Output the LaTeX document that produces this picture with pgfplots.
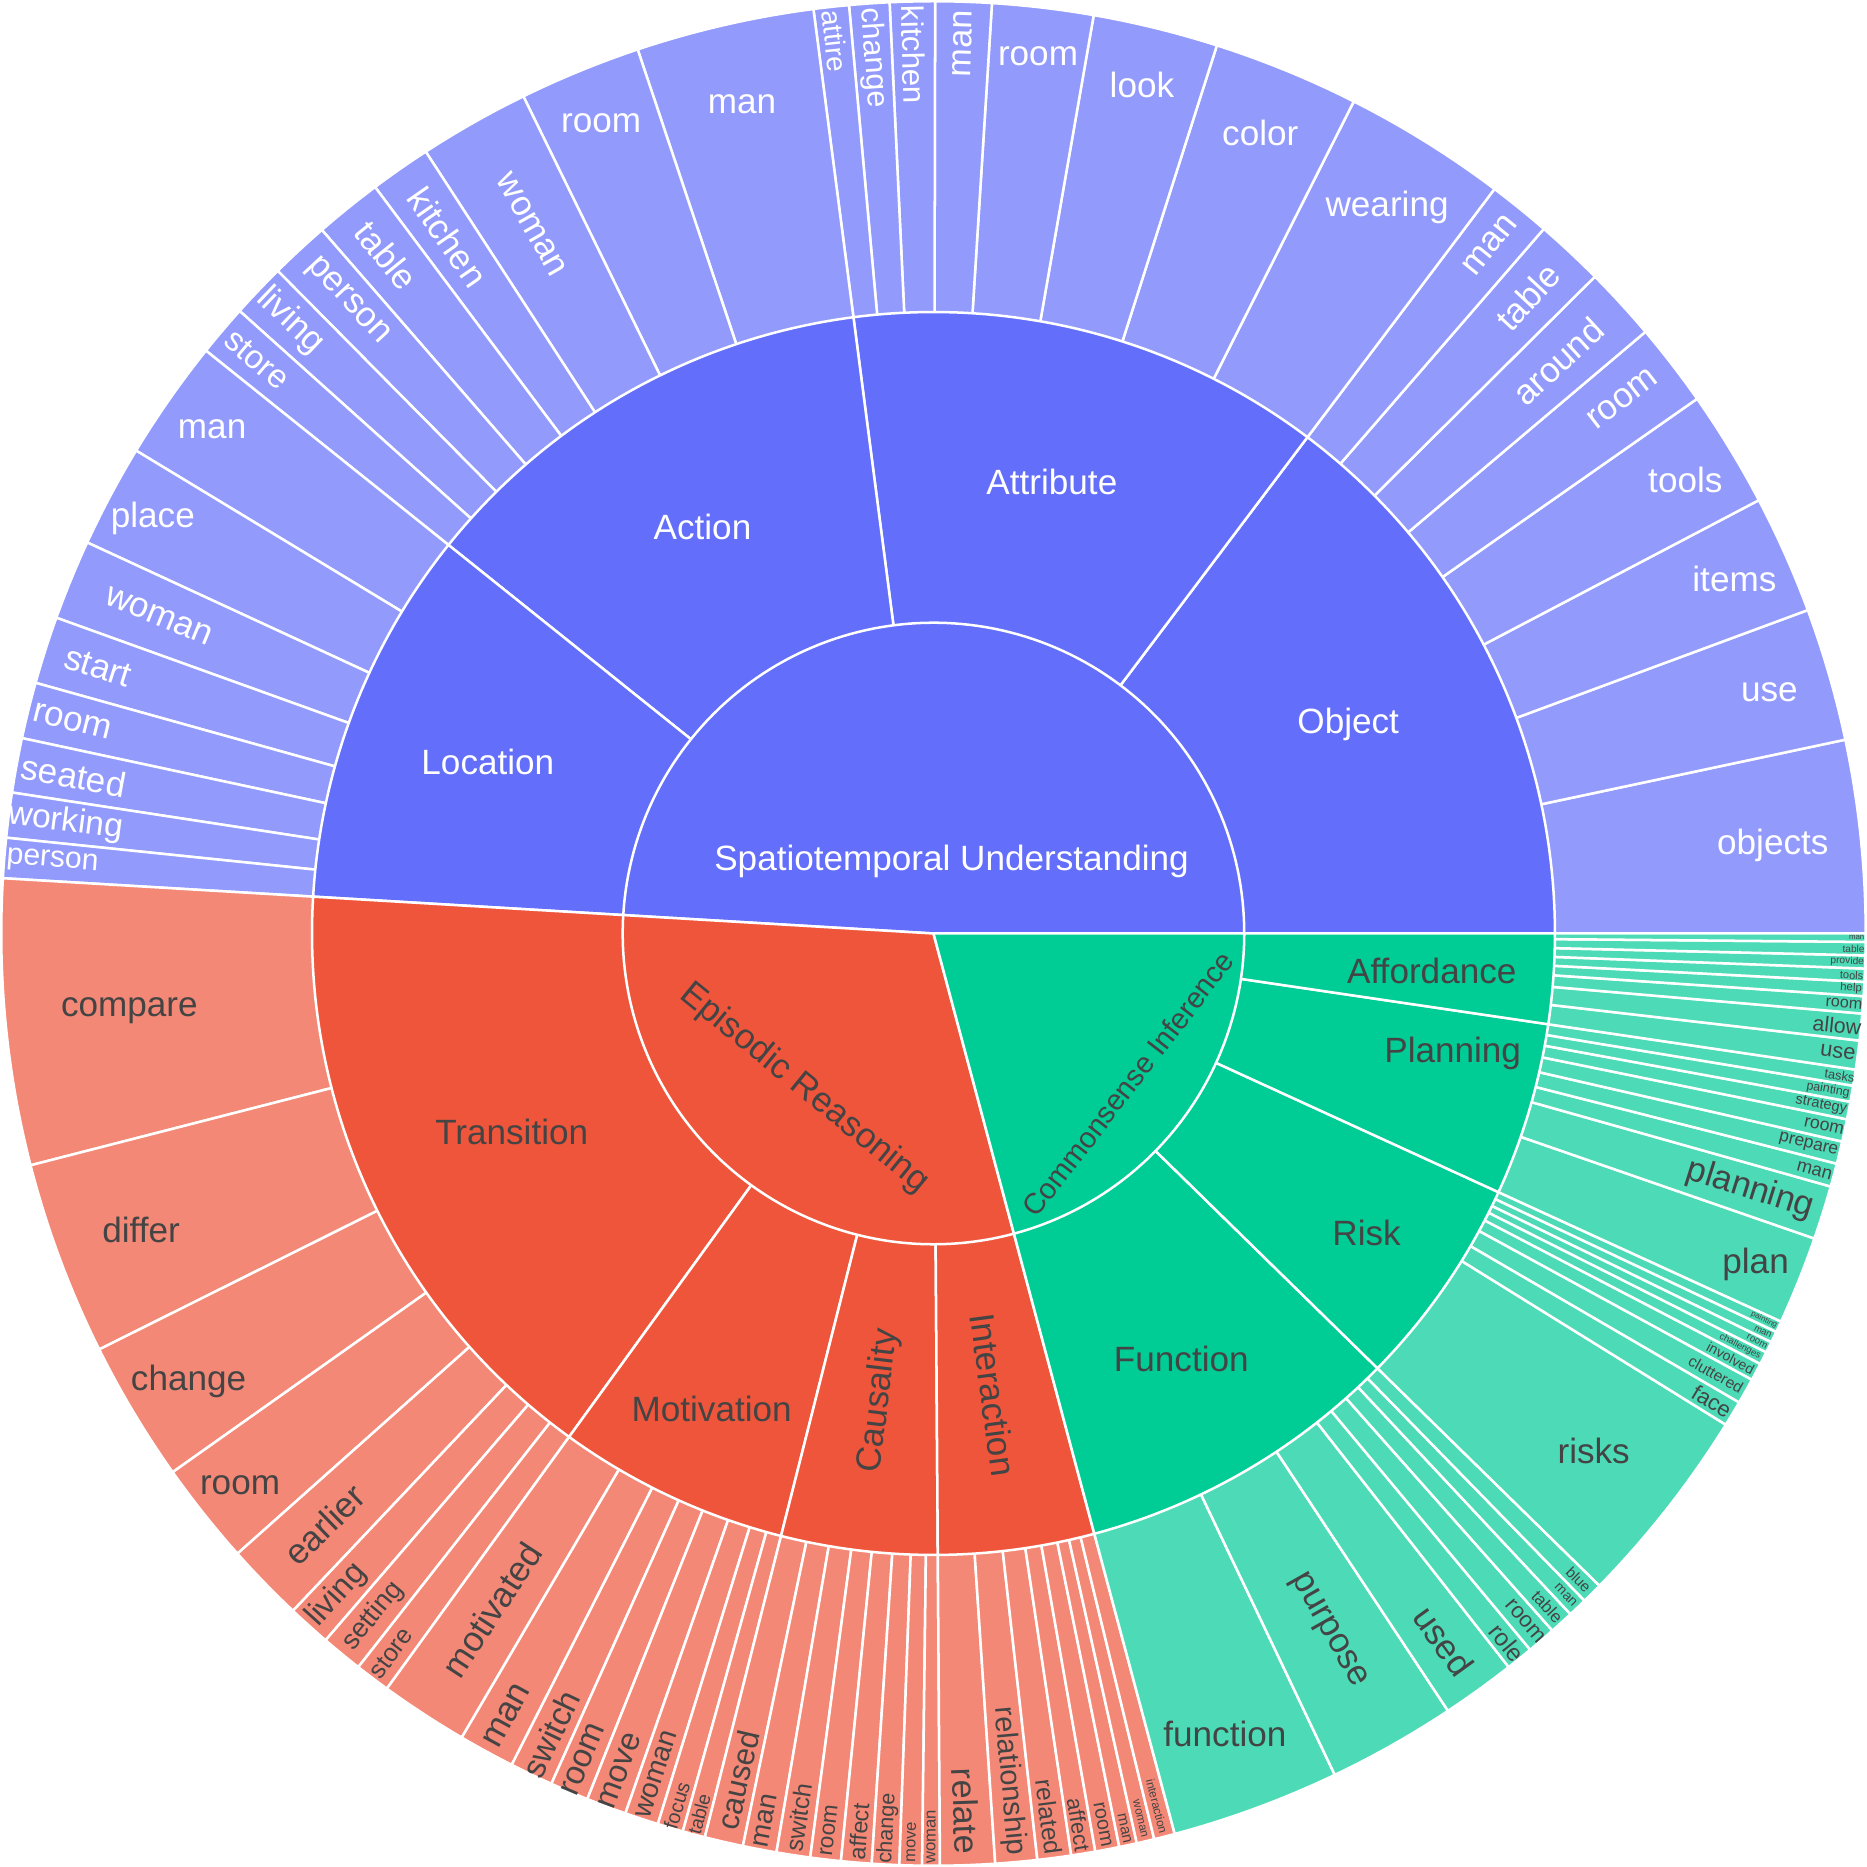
\documentclass[border=0pt]{standalone}
\usepackage{pgfplots}
\pgfplotsset{compat=1.18}
\usepackage{fontspec}
\setmainfont{Liberation Sans}
\definecolor{bA}{HTML}{636EFA}\definecolor{bL}{HTML}{929AFC}
\definecolor{rA}{HTML}{EF553B}\definecolor{rL}{HTML}{F48876}
\definecolor{gA}{HTML}{00CC96}\definecolor{gL}{HTML}{4CDBB6}
\definecolor{tx}{HTML}{444444}
% sector: start angle, end angle, radius, colour, samples
\newcommand{\sect}[5]{\addplot[fill=#4, draw=white, line width=1.25pt, line join=round, domain=#1:#2, samples=#5, variable=\t] ({932+#3*cos(\t)},{935+#3*sin(\t)}) -- (axis cs:932,935) -- cycle;}
% label: angle, radius, rotation, size, colour, text
\newcommand{\lab}[6]{\node[rotate=#3, text=#5, inner sep=0pt, anchor=center, font=\fontsize{#4}{#4}\selectfont] at (axis cs:{932+#2*cos(#1)},{935+#2*sin(#1)}) {#6};}
\begin{document}
\begin{tikzpicture}
\begin{axis}[width=932pt, height=933.5pt, scale only axis, xmin=0, xmax=1864, ymin=0, ymax=1867, hide axis, clip=false]
% ---------- level 3 (leaves), R = 929 ----------
% Object
\sect{0}{12.0}{929}{bL}{30}\sect{12.0}{20.3}{929}{bL}{30}\sect{20.3}{27.7}{929}{bL}{30}\sect{27.7}{35.0}{929}{bL}{30}
\sect{35.0}{40.2}{929}{bL}{30}\sect{40.2}{44.8}{929}{bL}{30}\sect{44.8}{49.1}{929}{bL}{30}\sect{49.1}{53.0}{929}{bL}{30}
% Attribute
\sect{53.0}{63.2}{929}{bL}{30}\sect{63.2}{72.3}{929}{bL}{30}\sect{72.3}{80.1}{929}{bL}{30}\sect{80.1}{86.4}{929}{bL}{30}
\sect{86.4}{89.9}{929}{bL}{30}\sect{89.9}{92.7}{929}{bL}{30}\sect{92.7}{95.2}{929}{bL}{30}\sect{95.2}{97.4}{929}{bL}{30}
% Action
\sect{97.4}{108.5}{929}{bL}{30}\sect{108.5}{116.1}{929}{bL}{30}\sect{116.1}{123.0}{929}{bL}{30}\sect{123.0}{126.8}{929}{bL}{30}
\sect{126.8}{131.0}{929}{bL}{30}\sect{131.0}{134.7}{929}{bL}{30}\sect{134.7}{138.1}{929}{bL}{30}\sect{138.1}{141.3}{929}{bL}{30}
% Location
\sect{141.3}{148.8}{929}{bL}{30}\sect{148.8}{155.2}{929}{bL}{30}\sect{155.2}{160.2}{929}{bL}{30}\sect{160.2}{164.4}{929}{bL}{30}
\sect{164.4}{167.9}{929}{bL}{30}\sect{167.9}{171.3}{929}{bL}{30}\sect{171.3}{174.1}{929}{bL}{30}\sect{174.1}{176.6}{929}{bL}{30}
% Transition
\sect{176.6}{194.4}{929}{rL}{30}\sect{194.4}{206.5}{929}{rL}{30}\sect{206.5}{215.3}{929}{rL}{30}\sect{215.3}{221.7}{929}{rL}{30}
\sect{221.7}{226.6}{929}{rL}{30}\sect{226.6}{229.3}{929}{rL}{30}\sect{229.3}{231.9}{929}{rL}{30}\sect{231.9}{234.1}{929}{rL}{30}
% Motivation
\sect{234.1}{239.6}{929}{rL}{30}\sect{239.6}{243.1}{929}{rL}{30}\sect{243.1}{245.8}{929}{rL}{30}\sect{245.8}{248.2}{929}{rL}{30}
\sect{248.2}{250.7}{929}{rL}{30}\sect{250.7}{252.8}{929}{rL}{30}\sect{252.8}{254.4}{929}{rL}{30}\sect{254.4}{255.8}{929}{rL}{30}
% Causality
\sect{255.8}{258.2}{929}{rL}{30}\sect{258.2}{260.3}{929}{rL}{30}\sect{260.3}{262.4}{929}{rL}{30}\sect{262.4}{264.3}{929}{rL}{30}
\sect{264.3}{266.2}{929}{rL}{30}\sect{266.2}{267.9}{929}{rL}{30}\sect{267.9}{269.3}{929}{rL}{30}\sect{269.3}{270.4}{929}{rL}{30}
% Interaction
\sect{270.4}{273.8}{929}{rL}{30}\sect{273.8}{276.4}{929}{rL}{30}\sect{276.4}{278.5}{929}{rL}{30}\sect{278.5}{280.0}{929}{rL}{30}
\sect{280.0}{281.5}{929}{rL}{30}\sect{281.5}{282.6}{929}{rL}{30}\sect{282.6}{283.7}{929}{rL}{30}\sect{283.7}{285.0}{929}{rL}{30}
% Function
\sect{285.0}{295.5}{929}{gL}{30}\sect{295.5}{303.5}{929}{gL}{30}\sect{303.5}{308.1}{929}{gL}{30}\sect{308.1}{309.8}{929}{gL}{30}
\sect{309.8}{311.6}{929}{gL}{30}\sect{311.6}{313.1}{929}{gL}{30}\sect{313.1}{314.3}{929}{gL}{30}\sect{314.3}{315.6}{929}{gL}{30}
% Risk
\sect{315.6}{328.2}{929}{gL}{30}\sect{328.2}{329.8}{929}{gL}{30}\sect{329.8}{331.4}{929}{gL}{30}\sect{331.4}{332.5}{929}{gL}{30}
\sect{332.5}{333.3}{929}{gL}{30}\sect{333.3}{334.0}{929}{gL}{30}\sect{334.0}{334.7}{929}{gL}{30}\sect{334.7}{335.4}{929}{gL}{30}
% Planning
\sect{335.4}{340.9}{929}{gL}{30}\sect{340.9}{344.25}{929}{gL}{30}\sect{344.25}{345.7}{929}{gL}{30}\sect{345.7}{347.1}{929}{gL}{30}
\sect{347.1}{348.5}{929}{gL}{30}\sect{348.5}{349.6}{929}{gL}{30}\sect{349.6}{350.6}{929}{gL}{30}\sect{350.6}{351.6}{929}{gL}{30}
% Affordance
\sect{351.6}{353.4}{929}{gL}{30}\sect{353.4}{355.07}{929}{gL}{30}\sect{355.07}{356.14}{929}{gL}{30}\sect{356.14}{357.02}{929}{gL}{30}
\sect{357.02}{357.84}{929}{gL}{30}\sect{357.84}{358.65}{929}{gL}{30}\sect{358.65}{359.48}{929}{gL}{30}\sect{359.48}{360}{929}{gL}{30}
% ---------- level 2, R = 619.3 ----------
\sect{0}{53.0}{619.3}{bA}{80}\sect{53.0}{97.4}{619.3}{bA}{80}\sect{97.4}{141.3}{619.3}{bA}{80}\sect{141.3}{176.6}{619.3}{bA}{80}
\sect{176.6}{234.1}{619.3}{rA}{80}\sect{234.1}{255.8}{619.3}{rA}{80}\sect{255.8}{270.4}{619.3}{rA}{80}\sect{270.4}{285.0}{619.3}{rA}{80}
\sect{285.0}{315.6}{619.3}{gA}{80}\sect{315.6}{335.4}{619.3}{gA}{80}\sect{335.4}{351.6}{619.3}{gA}{80}\sect{351.6}{360}{619.3}{gA}{80}
% ---------- level 1, R = 309.7 ----------
\sect{0}{176.6}{309.7}{bA}{120}\sect{176.6}{285.0}{309.7}{rA}{120}\sect{285.0}{360}{309.7}{gA}{120}
% ---------- labels ----------
\node[text=white, inner sep=0pt, font=\fontsize{17.5}{17.5}\selectfont] at (axis cs:950,1007) {Spatiotemporal Understanding};
\lab{230.2}{201}{-39.2}{17.5}{tx}{Episodic Reasoning}
\lab{322.3}{245}{52.3}{14.5}{tx}{Commonsense Inference}
\lab{26.8}{463}{0}{17.5}{white}{Object}
\lab{75.3}{465}{0}{17.5}{white}{Attribute}
\lab{119.6}{466}{0}{17.5}{white}{Action}
\lab{158.9}{476}{0}{17.5}{white}{Location}
\lab{205.2}{464.5}{0}{17.5}{tx}{Transition}
\lab{245}{523}{0}{17.5}{tx}{Motivation}
\lab{263.4}{469}{83.1}{17.5}{tx}{Causality}
\lab{277.4}{463.5}{-82.3}{17.5}{tx}{Interaction}
\lab{300.2}{491}{0}{17.5}{tx}{Function}
\lab{325.3}{525}{0}{17.5}{tx}{Risk}
\lab{347}{531}{0}{17.5}{tx}{Planning}
\lab{355.7}{498}{0}{17.5}{tx}{Affordance}
% Object
\lab{6.0}{841}{0}{17.5}{white}{objects}
\lab{16.1}{867}{0}{17.5}{white}{use}
\lab{23.9}{873}{0}{17.5}{white}{items}
\lab{31.1}{875}{0}{17.5}{white}{tools}
\lab{37.8}{869}{37.6}{17.5}{white}{room}
\lab{42.5}{844}{42.5}{17.5}{white}{around}
\lab{46.95}{868}{47}{17.5}{white}{table}
\lab{51.05}{882}{51}{17.5}{white}{man}
% Attribute
\lab{58}{853}{0}{17.5}{white}{wearing}
\lab{67.8}{862}{0}{17.5}{white}{color}
\lab{76.2}{871}{0}{17.5}{white}{look}
\lab{83.2}{880}{0}{17.5}{white}{room}
\lab{88.15}{887}{88.15}{17}{white}{man}
\lab{91.3}{876}{-88.7}{15.5}{white}{kitchen}
\lab{93.95}{875}{-86.05}{15.2}{white}{change}
\lab{96.3}{895}{-83.7}{13.9}{white}{attire}
% Action
\lab{103}{848}{0}{17.5}{white}{man}
\lab{112.3}{873}{0}{17.5}{white}{room}
\lab{119.55}{812}{-60.45}{17.5}{white}{woman}
\lab{124.9}{846}{-55.1}{17.5}{white}{kitchen}
\lab{128.9}{868}{-51.1}{17.5}{white}{table}
\lab{132.85}{859}{-47.15}{17.5}{white}{person}
\lab{136.4}{885}{-43.6}{17.5}{white}{living}
\lab{139.7}{884}{-40.3}{16.5}{white}{store}
% Location
\lab{145.05}{877}{0}{17.5}{white}{man}
\lab{152}{881}{0}{17.5}{white}{place}
\lab{157.7}{834}{-22.3}{17.5}{white}{woman}
\lab{162.3}{874}{-17.7}{17.5}{white}{start}
\lab{166.15}{884}{-13.85}{17.5}{white}{room}
\lab{169.6}{871}{-10.4}{17.5}{white}{seated}
\lab{172.7}{872}{-7.3}{16.7}{white}{working}
\lab{175.35}{881}{-4.65}{15}{white}{person}
% Transition
\lab{185.5}{805}{0}{17.5}{tx}{compare}
\lab{200.5}{843}{0}{17.5}{tx}{differ}
\lab{211}{866}{0}{17.5}{tx}{change}
\lab{218.5}{883}{0}{17.5}{tx}{room}
\lab{224.15}{846}{44.15}{17.5}{tx}{earlier}
\lab{227.95}{888}{47.95}{16}{tx}{living}
\lab{230.6}{880}{50.6}{13.5}{tx}{setting}
\lab{233}{898}{53}{12.5}{tx}{store}
% Motivation
\lab{236.85}{805}{56.85}{17.5}{tx}{motivated}
\lab{241.35}{888}{61.35}{17.5}{tx}{man}
\lab{244.45}{884}{64.45}{16.5}{tx}{switch}
\lab{247}{894}{67}{16.5}{tx}{room}
\lab{249.45}{891}{69.45}{16}{tx}{move}
\lab{251.75}{882}{71.75}{14}{tx}{woman}
\lab{253.6}{906}{73.6}{10}{tx}{focus}
\lab{255.1}{908}{75.1}{9.5}{tx}{table}
% Causality
\lab{257}{866}{77}{15.5}{tx}{caused}
\lab{259.25}{900}{79.25}{13.7}{tx}{man}
\lab{261.35}{891}{81.35}{12.3}{tx}{switch}
\lab{263.35}{900}{83.35}{11.3}{tx}{room}
\lab{265.25}{898}{85.25}{11.6}{tx}{affect}
\lab{267.05}{893}{87.05}{10.7}{tx}{change}
\lab{268.6}{906}{88.6}{8.2}{tx}{move}
\lab{269.85}{900}{89.85}{8.3}{tx}{woman}
% Interaction
\lab{272.1}{875}{-87.9}{17}{tx}{relate}
\lab{275.1}{848}{-84.9}{14.5}{tx}{relationship}
\lab{277.45}{888}{-82.55}{12.3}{tx}{related}
\lab{279.25}{900}{-80.75}{10.9}{tx}{affect}
\lab{280.75}{904}{-79.25}{9.9}{tx}{room}
\lab{282.05}{912}{-77.95}{7.7}{tx}{man}
\lab{283.15}{906}{-76.85}{5.9}{tx}{woman}
\lab{284.35}{898}{-75.65}{6}{tx}{interaction}
% Function
\lab{290}{849}{0}{17.5}{tx}{function}
\lab{299.5}{798}{-60.5}{17.5}{tx}{purpose}
\lab{305.8}{869}{-54.2}{17.5}{tx}{used}
\lab{308.95}{909}{-51.05}{12}{tx}{role}
\lab{310.7}{904}{-49.3}{11}{tx}{room}
\lab{312.35}{908}{-47.65}{8.5}{tx}{table}
\lab{313.7}{912}{-46.3}{6.9}{tx}{man}
\lab{314.95}{910}{-45.05}{7.5}{tx}{blue}
% Risk
\lab{321.9}{836}{0}{17.5}{tx}{risks}
\lab{329}{905}{-31}{11}{tx}{face}
\lab{330.6}{895}{-29.4}{7.8}{tx}{cluttered}
\lab{331.95}{900}{-28.05}{7}{tx}{involved}
\lab{332.9}{903}{-27.1}{4.7}{tx}{challenges}
\lab{333.65}{916}{-26.35}{4.8}{tx}{room}
\lab{334.35}{917}{-25.65}{4.7}{tx}{man}
\lab{335.05}{913}{-24.95}{4}{tx}{painting}
% Planning
\lab{338.1}{883}{0}{17.5}{tx}{plan}
\lab{342.6}{853}{-17.4}{17.3}{tx}{planning}
\lab{344.95}{909}{-15.05}{9.2}{tx}{man}
\lab{346.4}{897}{-13.6}{8.7}{tx}{prepare}
\lab{347.8}{908}{-12.2}{8.8}{tx}{room}
\lab{349.05}{901}{-10.95}{7.3}{tx}{strategy}
\lab{350.1}{905}{-9.9}{6.2}{tx}{painting}
\lab{351.1}{914}{-8.9}{6.4}{tx}{tasks}
% Affordance
\lab{352.5}{909}{-7.5}{10.9}{tx}{use}
\lab{354.2}{905}{-5.8}{10.6}{tx}{allow}
\lab{355.6}{910}{-4.4}{8}{tx}{room}
\lab{356.6}{916}{-3.4}{5.7}{tx}{help}
\lab{357.4}{916}{-2.6}{5.5}{tx}{tools}
\lab{358.25}{911}{-1.75}{5.1}{tx}{provide}
\lab{359.05}{917}{-0.95}{5}{tx}{table}
\lab{359.74}{920}{-0.26}{3.9}{tx}{man}
\end{axis}
\end{tikzpicture}
\end{document}
